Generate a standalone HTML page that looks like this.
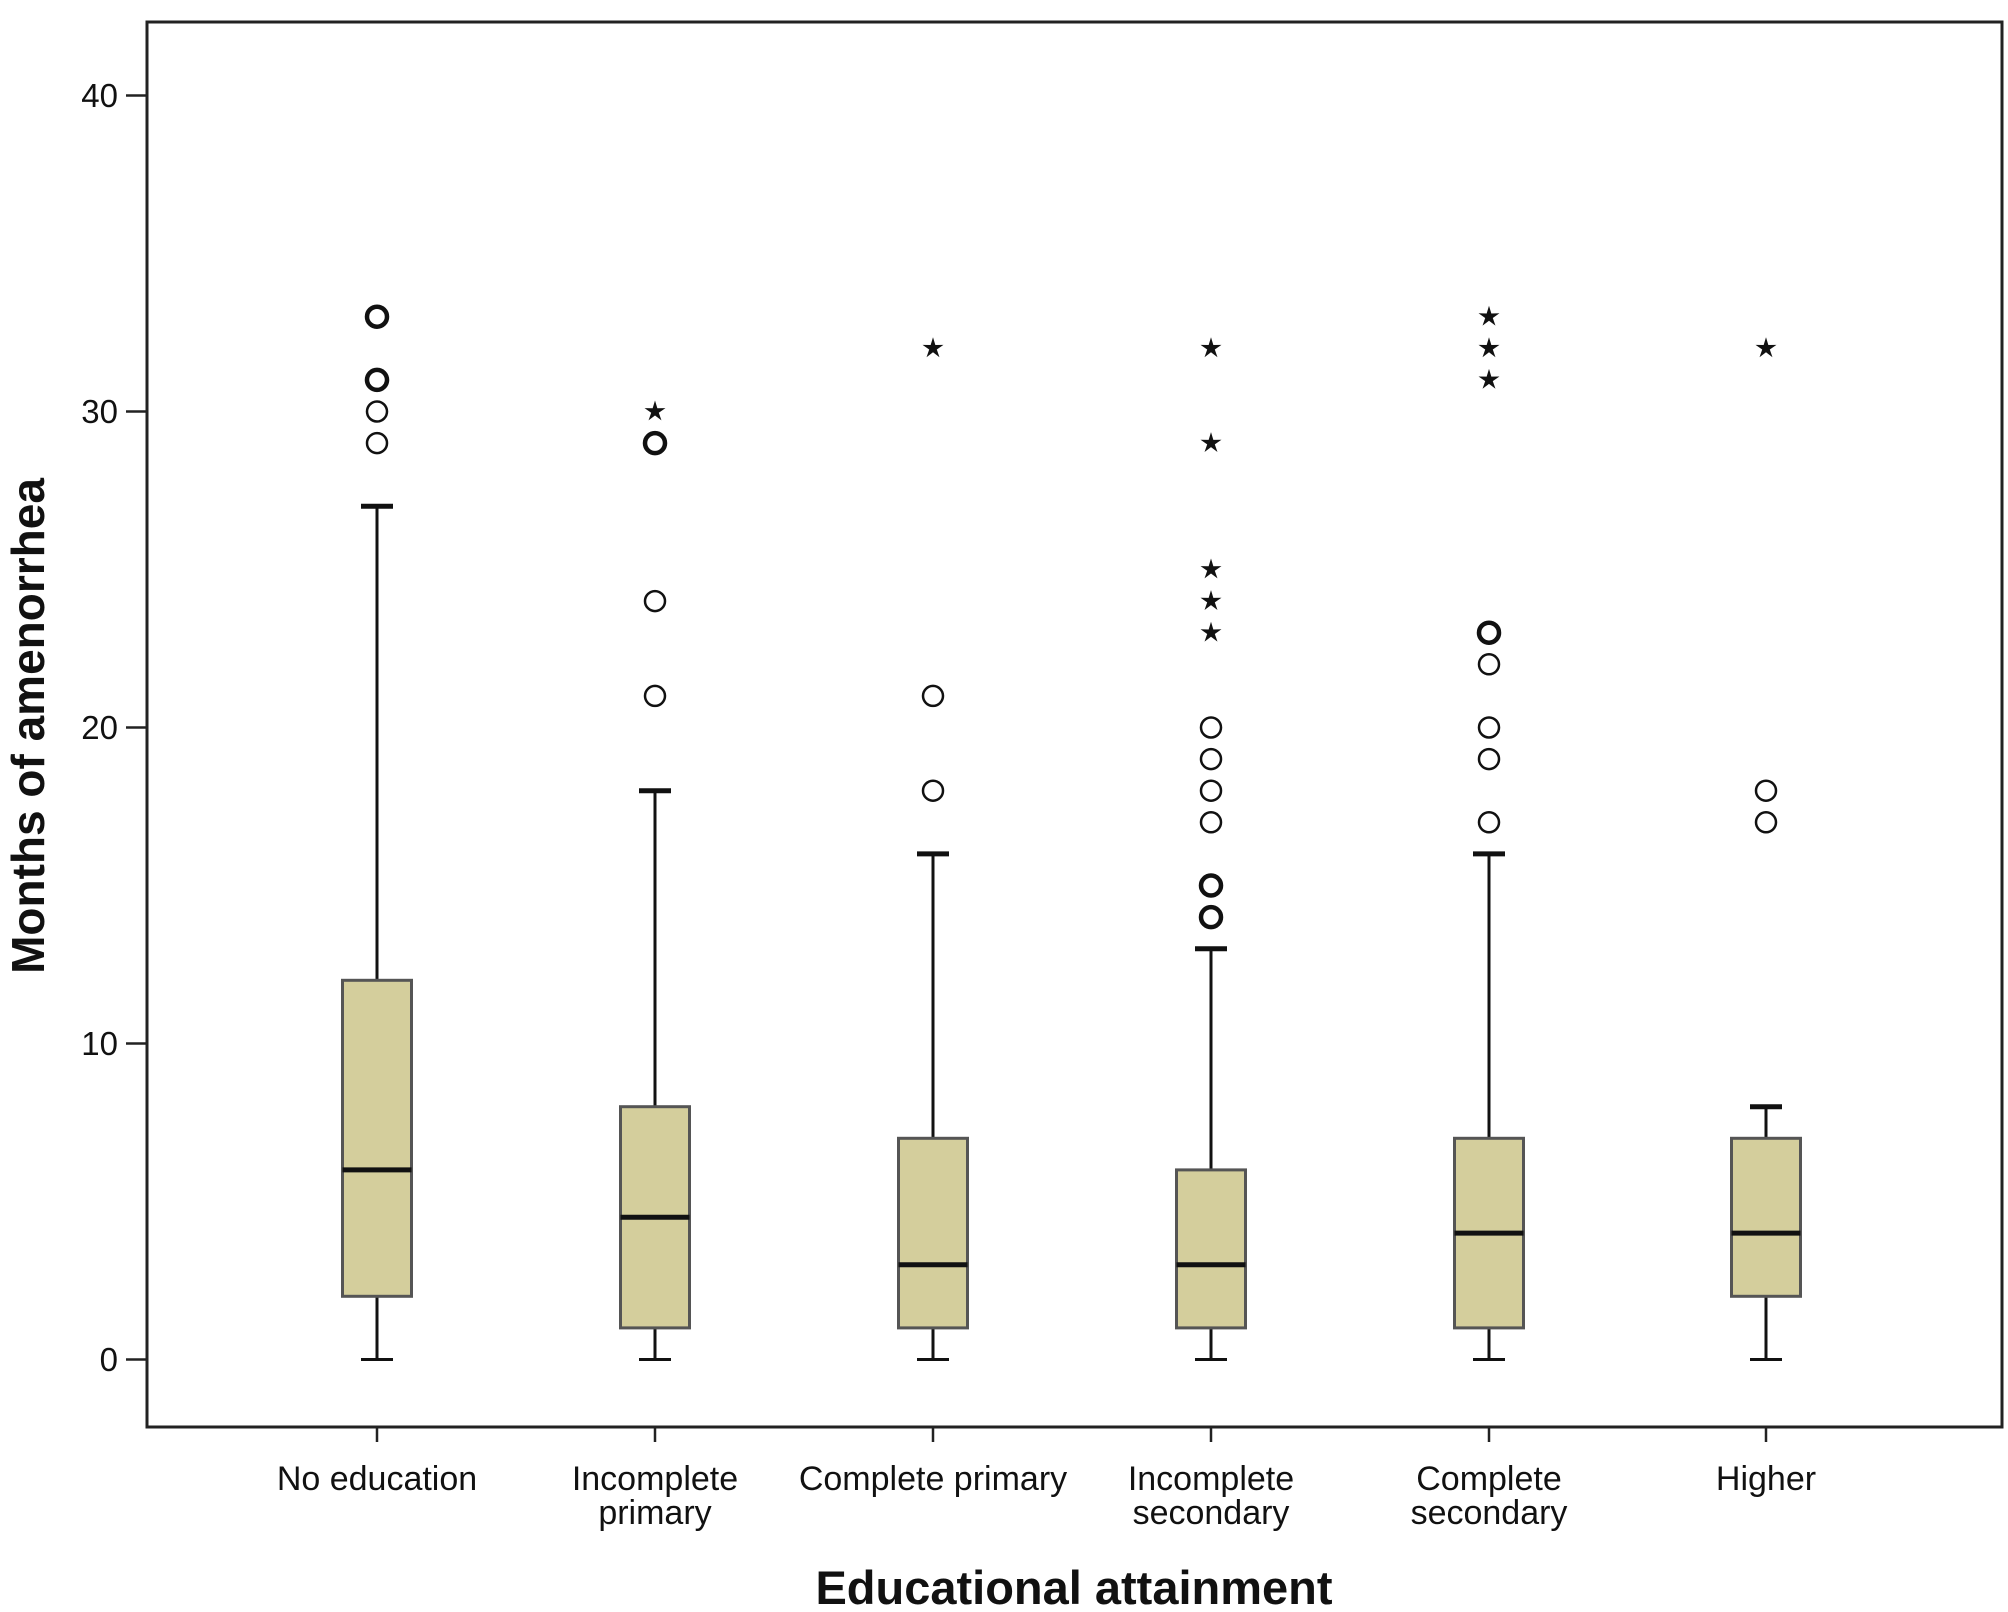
<!DOCTYPE html>
<html><head><style>html,body{margin:0;padding:0;background:#fff}svg{display:block}</style></head>
<body>
<svg width="2008" height="1612" viewBox="0 0 2008 1612" xmlns="http://www.w3.org/2000/svg" font-family="Liberation Sans, sans-serif">
<defs>
<polygon id="st" points="0,-11 2.35,-3.24 10.46,-3.4 3.8,1.24 6.47,8.9 0,4 -6.47,8.9 -3.8,1.24 -10.46,-3.4 -2.35,-3.24" fill="#111"/>
<circle id="c" r="10" fill="none" stroke="#111" stroke-width="2.5"/>
<circle id="cb" r="10" fill="none" stroke="#111" stroke-width="4.5"/>
</defs>
<rect x="0" y="0" width="2008" height="1612" fill="#fff"/>
<rect x="147" y="22" width="1855" height="1405" fill="#fff" stroke="#222" stroke-width="3"/>

<g transform="translate(377,0)">
<line x1="0" y1="506.3" x2="0" y2="1359.5" stroke="#111" stroke-width="3"/>
<line x1="-16" y1="506.3" x2="16" y2="506.3" stroke="#111" stroke-width="5"/>
<line x1="-16" y1="1359.5" x2="16" y2="1359.5" stroke="#111" stroke-width="3"/>
<rect x="-34.5" y="980.3" width="69" height="316" fill="#d4ce9c" stroke="#555" stroke-width="3"/>
<line x1="-34.5" y1="1169.9" x2="34.5" y2="1169.9" stroke="#111" stroke-width="5"/>
<use href="#c" y="443.1"/><use href="#c" y="411.5"/><use href="#cb" y="379.9"/><use href="#cb" y="316.7"/>
</g>
<g transform="translate(655,0)">
<line x1="0" y1="790.7" x2="0" y2="1359.5" stroke="#111" stroke-width="3"/>
<line x1="-16" y1="790.7" x2="16" y2="790.7" stroke="#111" stroke-width="5"/>
<line x1="-16" y1="1359.5" x2="16" y2="1359.5" stroke="#111" stroke-width="3"/>
<rect x="-34.5" y="1106.7" width="69" height="221.2" fill="#d4ce9c" stroke="#555" stroke-width="3"/>
<line x1="-34.5" y1="1217.3" x2="34.5" y2="1217.3" stroke="#111" stroke-width="5"/>
<use href="#c" y="695.9"/><use href="#c" y="601.1"/><use href="#cb" y="443.1"/><use href="#st" y="411.5"/>
</g>
<g transform="translate(933,0)">
<line x1="0" y1="853.9" x2="0" y2="1359.5" stroke="#111" stroke-width="3"/>
<line x1="-16" y1="853.9" x2="16" y2="853.9" stroke="#111" stroke-width="5"/>
<line x1="-16" y1="1359.5" x2="16" y2="1359.5" stroke="#111" stroke-width="3"/>
<rect x="-34.5" y="1138.3" width="69" height="189.6" fill="#d4ce9c" stroke="#555" stroke-width="3"/>
<line x1="-34.5" y1="1264.7" x2="34.5" y2="1264.7" stroke="#111" stroke-width="5"/>
<use href="#c" y="790.7"/><use href="#c" y="695.9"/><use href="#st" y="348.3"/>
</g>
<g transform="translate(1211,0)">
<line x1="0" y1="948.7" x2="0" y2="1359.5" stroke="#111" stroke-width="3"/>
<line x1="-16" y1="948.7" x2="16" y2="948.7" stroke="#111" stroke-width="5"/>
<line x1="-16" y1="1359.5" x2="16" y2="1359.5" stroke="#111" stroke-width="3"/>
<rect x="-34.5" y="1169.9" width="69" height="158" fill="#d4ce9c" stroke="#555" stroke-width="3"/>
<line x1="-34.5" y1="1264.7" x2="34.5" y2="1264.7" stroke="#111" stroke-width="5"/>
<use href="#cb" y="917.1"/><use href="#cb" y="885.5"/><use href="#c" y="822.3"/><use href="#c" y="790.7"/><use href="#c" y="759.1"/><use href="#c" y="727.5"/>
<use href="#st" y="632.7"/><use href="#st" y="601.1"/><use href="#st" y="569.5"/><use href="#st" y="443.1"/><use href="#st" y="348.3"/>
</g>
<g transform="translate(1489,0)">
<line x1="0" y1="853.9" x2="0" y2="1359.5" stroke="#111" stroke-width="3"/>
<line x1="-16" y1="853.9" x2="16" y2="853.9" stroke="#111" stroke-width="5"/>
<line x1="-16" y1="1359.5" x2="16" y2="1359.5" stroke="#111" stroke-width="3"/>
<rect x="-34.5" y="1138.3" width="69" height="189.6" fill="#d4ce9c" stroke="#555" stroke-width="3"/>
<line x1="-34.5" y1="1233.1" x2="34.5" y2="1233.1" stroke="#111" stroke-width="5"/>
<use href="#c" y="822.3"/><use href="#c" y="759.1"/><use href="#c" y="727.5"/><use href="#c" y="664.3"/><use href="#cb" y="632.7"/>
<use href="#st" y="379.9"/><use href="#st" y="348.3"/><use href="#st" y="316.7"/>
</g>
<g transform="translate(1766,0)">
<line x1="0" y1="1106.7" x2="0" y2="1359.5" stroke="#111" stroke-width="3"/>
<line x1="-16" y1="1106.7" x2="16" y2="1106.7" stroke="#111" stroke-width="5"/>
<line x1="-16" y1="1359.5" x2="16" y2="1359.5" stroke="#111" stroke-width="3"/>
<rect x="-34.5" y="1138.3" width="69" height="158" fill="#d4ce9c" stroke="#555" stroke-width="3"/>
<line x1="-34.5" y1="1233.1" x2="34.5" y2="1233.1" stroke="#111" stroke-width="5"/>
<use href="#c" y="822.3"/><use href="#c" y="790.7"/><use href="#st" y="348.3"/>
</g>

<g font-size="33" fill="#111" text-anchor="end">
<text x="118" y="1371">0</text><text x="118" y="1055">10</text><text x="118" y="739">20</text><text x="118" y="423">30</text><text x="118" y="107">40</text>
</g>
<g stroke="#222" stroke-width="2.5">
<line x1="126" y1="1359.5" x2="147" y2="1359.5"/><line x1="126" y1="1043.5" x2="147" y2="1043.5"/><line x1="126" y1="727.5" x2="147" y2="727.5"/><line x1="126" y1="411.5" x2="147" y2="411.5"/><line x1="126" y1="95.5" x2="147" y2="95.5"/>
<line x1="377" y1="1427" x2="377" y2="1442"/><line x1="655" y1="1427" x2="655" y2="1442"/><line x1="933" y1="1427" x2="933" y2="1442"/><line x1="1211" y1="1427" x2="1211" y2="1442"/><line x1="1489" y1="1427" x2="1489" y2="1442"/><line x1="1766" y1="1427" x2="1766" y2="1442"/>
</g>
<g font-size="34" fill="#111" text-anchor="middle">
<text x="377" y="1490">No education</text>
<text x="655" y="1490">Incomplete</text><text x="655" y="1524">primary</text>
<text x="933" y="1490">Complete primary</text>
<text x="1211" y="1490">Incomplete</text><text x="1211" y="1524">secondary</text>
<text x="1489" y="1490">Complete</text><text x="1489" y="1524">secondary</text>
<text x="1766" y="1490">Higher</text>
</g>
<text x="1074" y="1604" font-size="47" font-weight="bold" text-anchor="middle" fill="#111">Educational attainment</text>
<text transform="translate(44,726) rotate(-90)" font-size="46" font-weight="bold" text-anchor="middle" fill="#111">Months of amenorrhea</text>
</svg>
</body></html>
